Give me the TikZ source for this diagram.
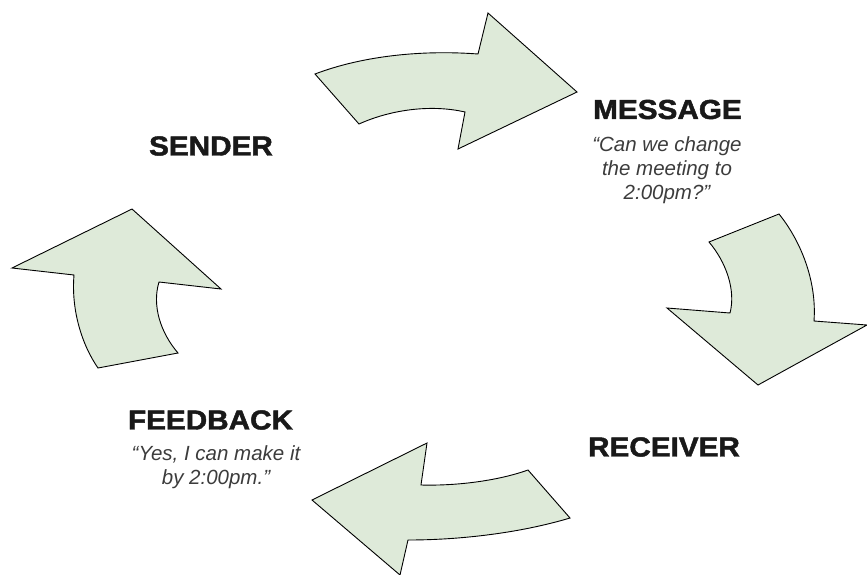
\documentclass[tikz,border=0pt]{standalone}
\usepackage{fontspec}
\setmainfont{Liberation Sans}
\newfontfamily\headfont[FakeBold=1.6]{Liberation Sans Bold}
\newcommand\headtxt[1]{\scalebox{1.08}[1]{\headfont\fontsize{27.5}{30}\selectfont #1}}
\definecolor{arrowfill}{RGB}{222,234,217}
\definecolor{quotegray}{RGB}{60,60,60}
\tikzset{
  bigarrow/.style={draw=black, line width=0.9pt, fill=arrowfill, line join=miter},
  heading/.style={inner sep=0pt, anchor=center, text=black!90},
  quote/.style={inner sep=0pt, align=center, text=quotegray,
    font=\itshape\fontsize{20.5}{24}\selectfont}
}
\begin{document}
\begin{tikzpicture}[x=1pt,y=-1pt]
\useasboundingbox (0,0) rectangle (867,574);
% top arrow (sender -> message)
\path[bigarrow] (315,74) .. controls (365,55) and (425,50) .. (478,54)
  -- (488,13) -- (577,92) -- (458,149) -- (465,112)
  .. controls (430,104) and (390,110) .. (359,124) -- cycle;
% right arrow (message -> receiver)
\path[bigarrow] (709,242) -- (779,214) .. controls (800,240) and (817,280) .. (814,321)
  -- (867,325) -- (758,385) -- (667,308) -- (730,313)
  .. controls (736,290) and (726,262) .. (709,242) -- cycle;
% bottom arrow (receiver -> feedback)
\path[bigarrow] (528,470) -- (570,518) .. controls (520,533) and (460,540) .. (408,540)
  -- (400,575) -- (312,500) -- (427,443) -- (421,485)
  .. controls (460,486) and (500,480) .. (528,470) -- cycle;
% left arrow (feedback -> sender)
\path[bigarrow] (12,268) -- (132,209) -- (221,289) -- (159,282)
  .. controls (152,305) and (160,332) .. (178,353) -- (98,368)
  .. controls (82,345) and (71,310) .. (74,275) -- cycle;
% labels
\node[heading] (sender) at (211,146) {\headtxt{SENDER}};
\node[heading] (message) at (667.5,109.5) {\headtxt{MESSAGE}};
\node[quote] (msgq) at (667,170) {“Can we change\\the meeting to\\2:00pm?”};
\node[heading] (receiver) at (664,447) {\headtxt{RECEIVER}};
\node[heading] (feedback) at (210.5,420) {\headtxt{FEEDBACK}};
\node[quote] (fbq) at (216,467) {“Yes, I can make it\\by 2:00pm.”};
\end{tikzpicture}
\end{document}
